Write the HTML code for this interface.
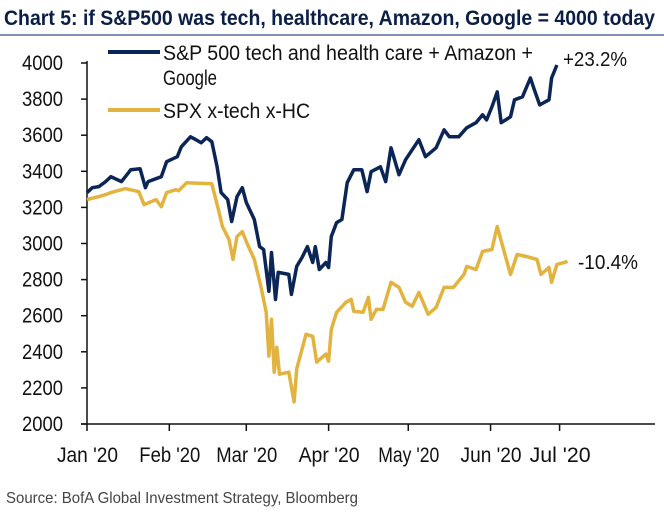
<!DOCTYPE html>
<html><head><meta charset="utf-8"><style>
body{margin:0;background:#fff;width:664px;height:515px;overflow:hidden}
svg{display:block}
text{font-family:"Liberation Sans Narrow","Liberation Sans",sans-serif}
</style></head><body>
<svg id="chart" width="664" height="515" viewBox="0 0 664 515">
<text x="4" y="25" font-size="21" font-weight="bold" fill="#0b1e45" textLength="651" lengthAdjust="spacingAndGlyphs">Chart 5: if S&amp;P500 was tech, healthcare, Amazon, Google = 4000 today</text>
<line x1="0" y1="35" x2="664" y2="35" stroke="#5a6f9a" stroke-width="1.5"/>
<g id="axes"></g>
<g id="series"></g>
<g>
<line x1="108" y1="52" x2="160" y2="52" stroke="#0b2556" stroke-width="4"/>
<text x="163" y="60" font-size="21" fill="#111" textLength="370" lengthAdjust="spacingAndGlyphs">S&amp;P 500 tech and health care + Amazon +</text>
<text x="163" y="85" font-size="21" fill="#111" textLength="54" lengthAdjust="spacingAndGlyphs">Google</text>
<line x1="108" y1="110" x2="160" y2="110" stroke="#e3b33f" stroke-width="4"/>
<text x="163" y="118" font-size="21" fill="#111" textLength="147" lengthAdjust="spacingAndGlyphs">SPX x-tech x-HC</text>
</g>
<text x="563" y="66" font-size="20" fill="#111" textLength="64" lengthAdjust="spacingAndGlyphs">+23.2%</text>
<text x="578" y="269" font-size="20" fill="#111" textLength="60" lengthAdjust="spacingAndGlyphs">-10.4%</text>
<text x="6" y="503" font-size="16" fill="#444" textLength="352" lengthAdjust="spacingAndGlyphs">Source: BofA Global Investment Strategy, Bloomberg</text>
</svg>
<script>
const yTicks=[2000,2200,2400,2600,2800,3000,3200,3400,3600,3800,4000];
const monthLabels=["Jan '20","Feb '20","Mar '20","Apr '20","May '20","Jun '20","Jul '20"];
const monthDays=[0,31,60,91,121,152,178];
const techDays=[0,2,4.5,7,9,13,16.5,20,22,23,28,30,34,35.5,39,41,43,45,47,49,50.5,53,54.5,56.5,58.5,60,63,65,66.5,68.5,69.5,71,72,76,77,79,81,83,85,86,87.5,90,91,92,94,96,98,100.5,103.5,105.5,107,110.5,112.5,114.5,117.5,120,125,127.5,131.5,134.5,136.5,140,143,146.5,149,150.5,152.5,154.5,156,159.5,161,164,167,168.5,170.5,174,175,177];
const techValues=[3282,3309,3315,3343,3370,3343,3409,3414,3309,3343,3370,3453,3481,3536,3591,3575,3558,3586,3564,3425,3282,3243,3122,3260,3309,3227,3133,2983,2967,2735,2950,2690,2840,2829,2718,2873,2923,2983,2895,2983,2856,2895,2867,3039,3116,3133,3337,3409,3409,3287,3398,3425,3343,3530,3381,3464,3575,3481,3530,3630,3591,3591,3641,3669,3713,3685,3757,3840,3669,3702,3796,3812,3917,3851,3768,3796,3917,3989];
const xtechDays=[0,4.5,7,9,14.5,19.5,21.5,26,28,30,33.5,34.5,37.5,47,49.5,51,53.5,55,56.5,58.5,60.5,63,65.5,67.5,68.5,69.5,70.5,71.5,72.5,76,78,79,82.5,85,86.5,90,91,92,94,97.5,99.5,100.5,104,106,107,109,111.5,114.5,117.5,120,122.5,125,128.5,131.5,134.5,138,142,143,146.5,149,152.5,154.5,159.5,162,165.5,169.5,171,174,175,177,181];
const xtechValues=[3243,3260,3271,3282,3304,3287,3215,3243,3204,3282,3298,3292,3337,3331,3188,3094,3022,2912,3039,3066,2994,2912,2762,2619,2376,2580,2287,2425,2276,2287,2122,2304,2497,2486,2343,2387,2348,2525,2619,2674,2691,2624,2619,2702,2580,2635,2635,2785,2757,2674,2652,2729,2608,2646,2757,2757,2829,2873,2856,2956,2967,3094,2829,2939,2928,2912,2829,2867,2785,2884,2900];

const X0=87,X1=655,Y0=424,Y1=63;
const xs=d=>X0+d*2.655;
const ys=v=>Y0-(v-2000)*(Y0-Y1)/2000;
const NS='http://www.w3.org/2000/svg';
function mk(tag,attrs,parent,txt){const e=document.createElementNS(NS,tag);for(const k in attrs)e.setAttribute(k,attrs[k]);if(txt!=null)e.textContent=txt;parent.appendChild(e);return e;}
const axes=document.getElementById('axes');
let e=mk('line',{x1:X0,y1:Y1-2,x2:X0,y2:Y0,stroke:'#111','stroke-width':1.5},axes);


e=mk('line',{x1:X0-6,y1:Y0,x2:X1,y2:Y0,stroke:'#111','stroke-width':1.5},axes);


yTicks.forEach(v=>{
  const y=ys(v);
  e=mk('line',{x1:X0-6,y1:y,x2:X0,y2:y,stroke:'#111','stroke-width':1.5},axes);
  
  
  e=mk('text',{x:X0-65,y:y+7,'font-size':21,fill:'#111',textLength:41,lengthAdjust:'spacingAndGlyphs'},axes,String(v));
  
  
});
monthDays.forEach((d,i)=>{
  const x=xs(d);
  e=mk('line',{x1:x,y1:Y0,x2:x,y2:Y0+7,stroke:'#111','stroke-width':1.5},axes);
  
  
  e=mk('text',{x:x-30,y:Y0+38,'font-size':21,fill:'#111',textLength:61,lengthAdjust:'spacingAndGlyphs'},axes,monthLabels[i]);
  
  
});
const ser=document.getElementById('series');
function path(days,vals){return days.map((d,i)=>(i?'L':'M')+xs(d).toFixed(1)+' '+ys(vals[i]).toFixed(1)).join(' ');}
e=mk('path',{d:path(xtechDays,xtechValues),fill:'none',stroke:'#e3b33f','stroke-width':3.5,'stroke-linejoin':'round'},ser);


e=mk('path',{d:path(techDays,techValues),fill:'none',stroke:'#0b2556','stroke-width':3.5,'stroke-linejoin':'round'},ser);


</script>
</body></html>
